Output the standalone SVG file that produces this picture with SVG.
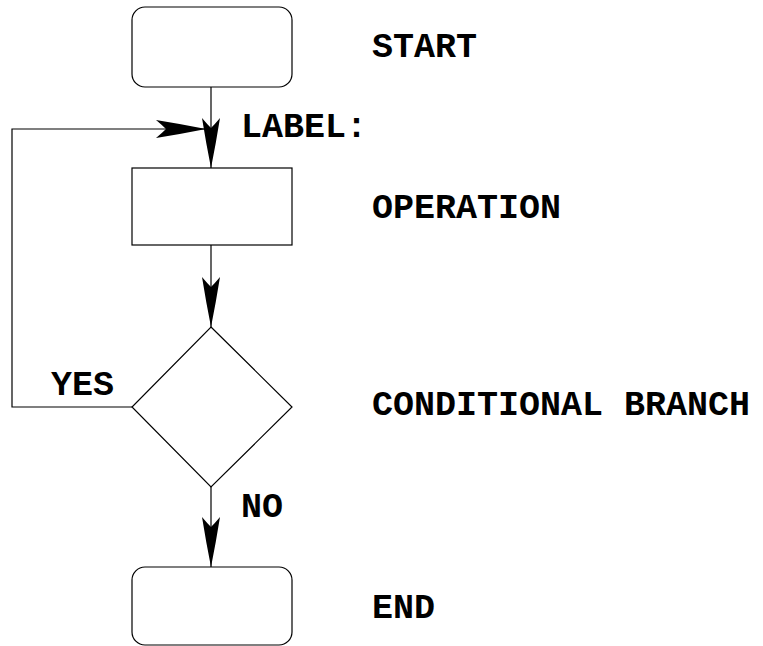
<svg xmlns="http://www.w3.org/2000/svg" width="763" height="646" viewBox="0 0 763 646">
<style>
.shape{fill:#fff;stroke:#000;stroke-width:1.2}
.edge{fill:none;stroke:#000;stroke-width:1.2}
text{font-family:"Liberation Mono","Courier New",monospace;font-weight:bold;font-size:35px;fill:#000}
</style>
<defs>
<marker id="ah" viewBox="-52 -10 54 20" refX="0" refY="0" markerWidth="54" markerHeight="20" markerUnits="userSpaceOnUse" orient="auto">
<path d="M0,0 Q-25,-5 -50,-9 Q-44,-4 -40,0 Q-44,4 -50,9 Q-25,5 0,0 Z" fill="#000"/>
</marker>
</defs>
<rect width="763" height="646" fill="#fff"/>
<g id="connectors">
<line class="edge" x1="211" y1="87" x2="211" y2="168" marker-end="url(#ah)"/>
<line class="edge" x1="211" y1="245" x2="211" y2="327" marker-end="url(#ah)"/>
<line class="edge" x1="211" y1="487" x2="211" y2="567" marker-end="url(#ah)"/>
<polyline class="edge" points="132,407 12,407 12,129 206,129" marker-end="url(#ah)"/>
</g>
<g id="start"><rect class="shape" x="132" y="7" width="160" height="80" rx="13"/><text x="372" y="57">START</text></g>
<g id="label"><text x="241" y="137">LABEL:</text></g>
<g id="operation"><rect class="shape" x="132" y="168" width="160" height="77"/><text x="372" y="218">OPERATION</text></g>
<g id="branch"><polygon class="shape" points="211,327 292,407 211,487 132,407"/><text x="372" y="415">CONDITIONAL BRANCH</text></g>
<g id="yes"><text x="51" y="395">YES</text></g>
<g id="no"><text x="241" y="517">NO</text></g>
<g id="end"><rect class="shape" x="132" y="567" width="160" height="78" rx="13"/><text x="372" y="618">END</text></g>
</svg>
